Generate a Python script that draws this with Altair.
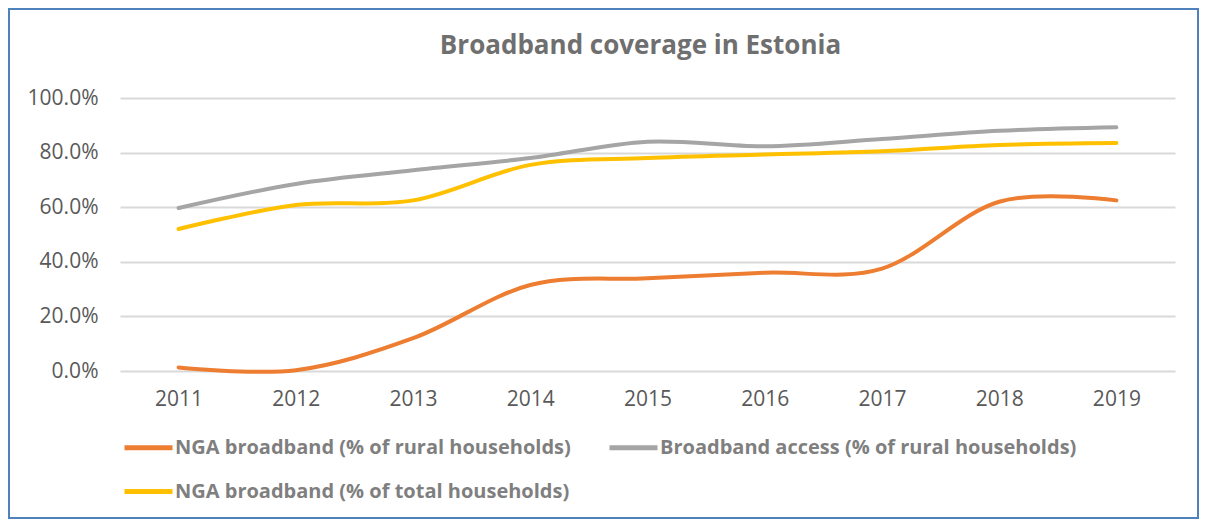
import altair as alt
import pandas as pd

years = ["2011", "2012", "2013", "2014", "2015", "2016", "2017", "2018", "2019"]
nga_rural = [1.3, 0.3, 12.0, 31.5, 34.0, 36.0, 37.5, 62.0, 62.5]
bb_rural = [59.7, 68.5, 73.5, 78.0, 84.0, 82.3, 85.0, 88.0, 89.3]
nga_total = [52.0, 60.8, 62.5, 75.5, 78.0, 79.3, 80.5, 82.8, 83.5]

series_names = [
    "NGA broadband (% of rural households)",
    "Broadband access (% of rural households)",
    "NGA broadband (% of total households)",
]
series_values = [nga_rural, bb_rural, nga_total]
colors = ["#ED7D31", "#A5A5A5", "#FFC000"]
y_ticks = [0.0, 0.2, 0.4, 0.6, 0.8, 1.0]

rows = []
for name, vals in zip(series_names, series_values):
    for yr, v in zip(years, vals):
        rows.append({"year": yr, "value": v / 100.0, "series": name})
df = pd.DataFrame(rows)

FONT = "Open Sans"

lines = alt.Chart(df).mark_line(interpolate="cardinal", strokeWidth=4, strokeCap="round").encode(
    x=alt.X("year:O", sort=years, title=None,
            scale=alt.Scale(padding=0.5),
            axis=alt.Axis(labelAngle=0, ticks=False, domain=False, grid=False,
                          labelFont=FONT, labelFontSize=21, labelColor="#595959",
                          labelPadding=17)),
    y=alt.Y("value:Q", title=None,
            scale=alt.Scale(domain=[0, 1], nice=False),
            axis=alt.Axis(values=y_ticks, format=".1%", ticks=False, domain=False,
                          grid=True, gridColor="#d9d9d9", gridWidth=2,
                          labelFont=FONT, labelFontSize=21, labelColor="#595959",
                          labelPadding=22)),
    color=alt.Color("series:N", sort=series_names,
                    scale=alt.Scale(domain=series_names, range=colors),
                    legend=alt.Legend(title=None, orient="none", legendX=2, legendY=323,
                                      direction="horizontal",
                                      columns=2, columnPadding=28, rowPadding=7,
                                      symbolType="stroke", symbolSize=2304,
                                      symbolStrokeWidth=5, labelOffset=0,
                                      labelFont=FONT, labelFontSize=20,
                                      labelFontWeight="bold", labelColor="#7f7f7f",
                                      labelLimit=600, padding=0)),
)

border = alt.Chart(pd.DataFrame({"k": [0]})).mark_rect(
    fill="transparent", stroke="#4f81bd", strokeWidth=2
).encode(
    x=alt.value(-111), x2=alt.value(1078), y=alt.value(-89), y2=alt.value(420)
)

chart = alt.layer(border, lines).properties(
    width=1055, height=273, padding=0,
    title=alt.TitleParams("Broadband coverage in Estonia", font=FONT, fontSize=26,
                          fontWeight="bold", color="#6f6f6f", anchor="middle",
                          offset=-51, dx=-7),
).configure_view(stroke=None)

chart.save("out.html", embed_options={"renderer": "svg", "actions": False})
